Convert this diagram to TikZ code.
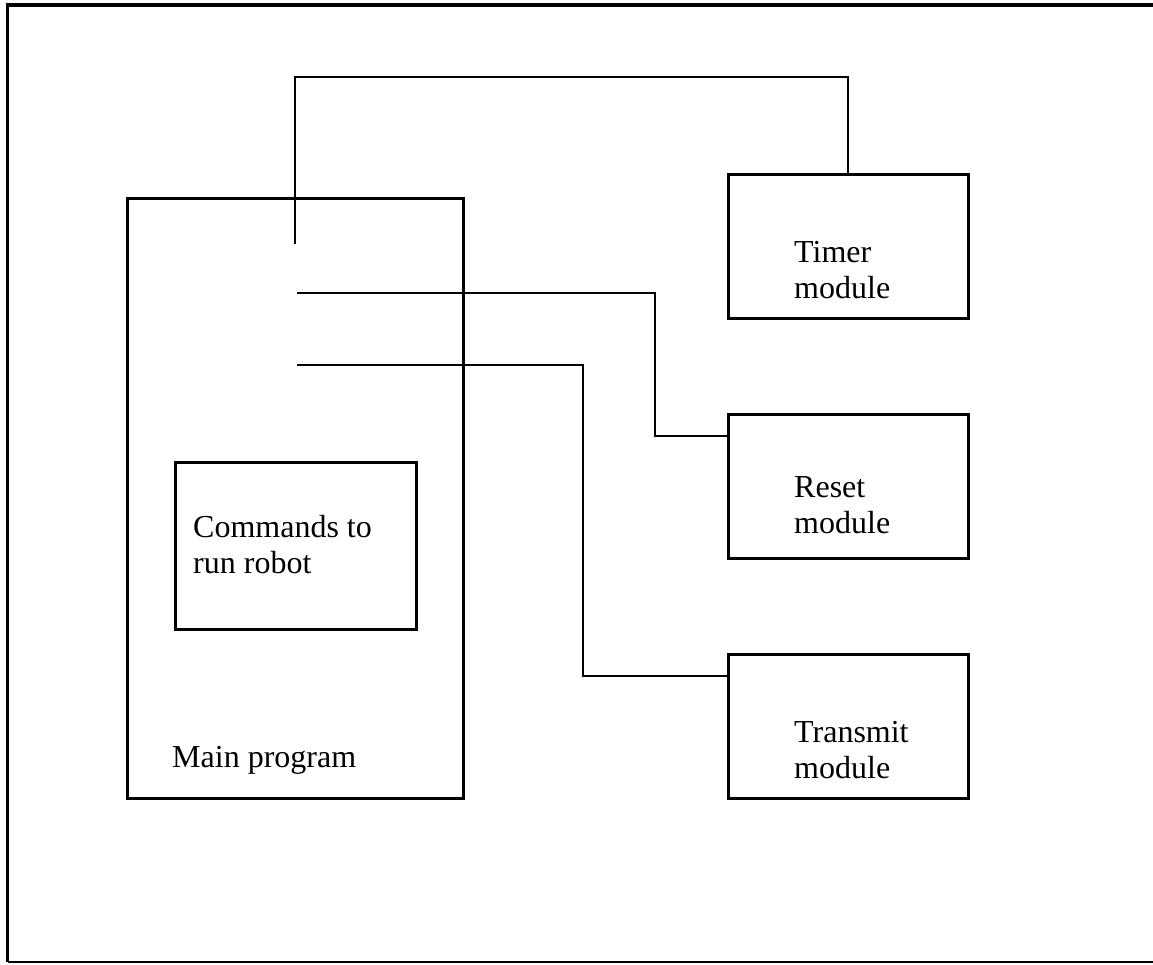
\documentclass[tikz,border=0pt]{standalone}
\usepackage{fontspec}
\setmainfont{Liberation Serif}
\begin{document}
\begin{tikzpicture}[x=1pt,y=-1pt,
  box/.style={draw=black,line width=2.5pt,anchor=north west,inner sep=0pt},
  lbl/.style={anchor=base west,align=left,inner sep=0pt,font=\fontsize{32}{36}\selectfont},
  wire/.style={draw=black,line width=2.2pt}]
\useasboundingbox (0,0) rectangle (1153,964);
% outer frame (right side lies outside the picture)
\draw[line width=3.5pt,line join=miter] (1153,5) -- (7.5,5) -- (7.5,962);
\draw[line width=1.5pt] (7.5,962) -- (1153,962);
% boxes
\node[box,minimum width=336pt,minimum height=600pt] (main) at (126,197) {};
\node[box,minimum width=241pt,minimum height=167pt] (cmd) at (174,461) {};
\node[box,minimum width=240pt,minimum height=144pt] (timer) at (727,173) {};
\node[box,minimum width=240pt,minimum height=144pt] (reset) at (727,413) {};
\node[box,minimum width=240pt,minimum height=144pt] (transmit) at (727,653) {};
% labels (anchor = baseline of the last line)
\node[lbl] (cmdtxt) at (193,573) {Commands to\\run robot};
\node[lbl] (maintxt) at (172,767) {Main program};
\node[lbl] (timertxt) at (794,298) {Timer\\module};
\node[lbl] (resettxt) at (794,533) {Reset\\module};
\node[lbl] (transtxt) at (794,778) {Transmit\\module};
% connectors
\coordinate (t1) at (295,244);
\coordinate (tup) at (295,77);
\draw[wire] (t1) -- (tup) -| (timer.north);
\coordinate (r1) at (297,293);
\coordinate (rj) at (655,436);
\draw[wire] (r1) -| (rj) -- (reset.west |- rj);
\coordinate (x1) at (297,365);
\coordinate (xj) at (583,676);
\draw[wire] (x1) -| (xj) -- (transmit.west |- xj);
\end{tikzpicture}
\end{document}
